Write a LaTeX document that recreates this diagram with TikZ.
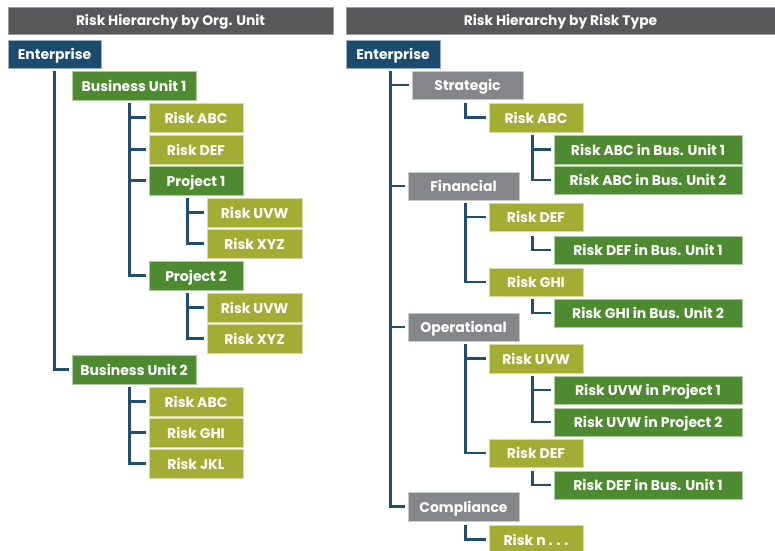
\documentclass[tikz,border=0pt]{standalone}
\usepackage{fontspec}
\setmainfont{Poppins}
\definecolor{hdr}{HTML}{58585B}
\definecolor{ent}{HTML}{1B4B6E}
\definecolor{grn}{HTML}{4E8A30}
\definecolor{olv}{HTML}{A3AC33}
\definecolor{gry}{HTML}{858689}
\definecolor{lnc}{HTML}{1F4E70}
\newcommand\bx[7]{\node[box,fill=#6,draw=#6!45!white,minimum width={#4-#2},minimum height={#5-#3}] (#1) at ({(#2+#4)/2},{(#3+#5)/2}) {#7};}
\newcommand\grp[3]{\path ([xshift=-#3]#2.west) coordinate (vb); \coordinate (vt) at (vb |- #1.north); \draw[conn] ([xshift=-3]#2.west) -| (vt);}
\newcommand\stb[1]{\draw[conn] ([xshift=-3]#1.west) -- (vt |- #1.west);}
\tikzset{
  box/.style={inner sep=0pt,line width=0.8pt,text=white,font=\fontsize{14}{16}\selectfont\bfseries,text height=11pt,text depth=0pt,align=center},
  hbox/.style={box,font=\fontsize{13.8}{16}\selectfont\bfseries,text height=10.6pt},
  conn/.style={draw=lnc,line width=2.4pt,line join=miter}
}
\begin{document}
\begin{tikzpicture}[x=1pt,y=-1pt]
\useasboundingbox (0,0) rectangle (775,550);
\clip (0,0) rectangle (775,550);
\fill[white] (0,0) rectangle (775,550);
% headers
\node[hbox,fill=hdr,draw=hdr!60!white,minimum width=325,minimum height=27] (hL) at (170.5,20.5) {Risk Hierarchy by Org. Unit};
\node[hbox,fill=hdr,draw=hdr!60!white,minimum width=429,minimum height=27] (hR) at (560.5,20.5) {Risk Hierarchy by Risk Type};
% left tree
\bx{L0}{8}{40}{101}{68}{ent}{Enterprise}
\bx{L1}{72}{71}{196}{100}{grn}{Business Unit 1}
\bx{L11}{149}{103}{243}{132}{olv}{Risk ABC}
\bx{L12}{149}{135}{243}{164}{olv}{Risk DEF}
\bx{L13}{149}{166}{243}{195}{grn}{Project 1}
\bx{L131}{207}{198}{302}{227}{olv}{Risk UVW}
\bx{L132}{207}{229}{302}{258}{olv}{Risk XYZ}
\bx{L14}{149}{261}{243}{290}{grn}{Project 2}
\bx{L141}{207}{293}{302}{322}{olv}{Risk UVW}
\bx{L142}{207}{324}{302}{353}{olv}{Risk XYZ}
\bx{L2}{72}{355}{196}{384}{grn}{Business Unit 2}
\bx{L21}{149}{387}{243}{416}{olv}{Risk ABC}
\bx{L22}{149}{418}{243}{447}{olv}{Risk GHI}
\bx{L23}{149}{449}{243}{478}{olv}{Risk JKL}
% right tree
\bx{R0}{346}{40}{440}{68}{ent}{Enterprise}
\bx{R1}{412}{71}{523}{99}{gry}{Strategic}
\bx{R11}{489}{103}{583}{132}{olv}{Risk ABC}
\bx{R111}{554}{135}{742}{164}{grn}{Risk ABC in Bus. Unit 1}
\bx{R112}{554}{166}{742}{194}{grn}{Risk ABC in Bus. Unit 2}
\bx{R2}{408}{172}{519}{200}{gry}{Financial}
\bx{R21}{489}{203}{583}{231}{olv}{Risk DEF}
\bx{R211}{554}{236}{742}{264}{grn}{Risk DEF in Bus. Unit 1}
\bx{R22}{489}{268}{583}{296}{olv}{Risk GHI}
\bx{R221}{554}{299}{742}{327}{grn}{Risk GHI in Bus. Unit 2}
\bx{R3}{408}{313}{519}{341}{gry}{Operational}
\bx{R31}{489}{344}{583}{373}{olv}{Risk UVW}
\bx{R311}{554}{376}{742}{404}{grn}{Risk UVW in Project 1}
\bx{R312}{554}{408}{742}{436}{grn}{Risk UVW in Project 2}
\bx{R32}{489}{439}{583}{467}{olv}{Risk DEF}
\bx{R321}{554}{471}{742}{499}{grn}{Risk DEF in Bus. Unit 1}
\bx{R4}{408}{492}{519}{521}{gry}{Compliance}
\bx{R41}{489}{525}{583}{554}{olv}{Risk n . . .}
% left connectors
\grp{L1}{L2}{17}
\grp{L11}{L14}{19} \stb{L11} \stb{L12} \stb{L13}
\grp{L131}{L132}{19} \stb{L131}
\grp{L141}{L142}{19} \stb{L141}
\grp{L21}{L23}{19} \stb{L21} \stb{L22}
% right connectors
\grp{R1}{R4}{17} \stb{R1} \stb{R2} \stb{R3}
\grp{R11}{R11}{23}
\grp{R111}{R112}{21} \stb{R111}
\grp{R21}{R22}{23} \stb{R21}
\grp{R211}{R211}{21}
\grp{R221}{R221}{21}
\grp{R31}{R32}{23} \stb{R31}
\grp{R311}{R312}{21} \stb{R311}
\grp{R321}{R321}{21}
\grp{R41}{R41}{23}
\end{tikzpicture}
\end{document}
